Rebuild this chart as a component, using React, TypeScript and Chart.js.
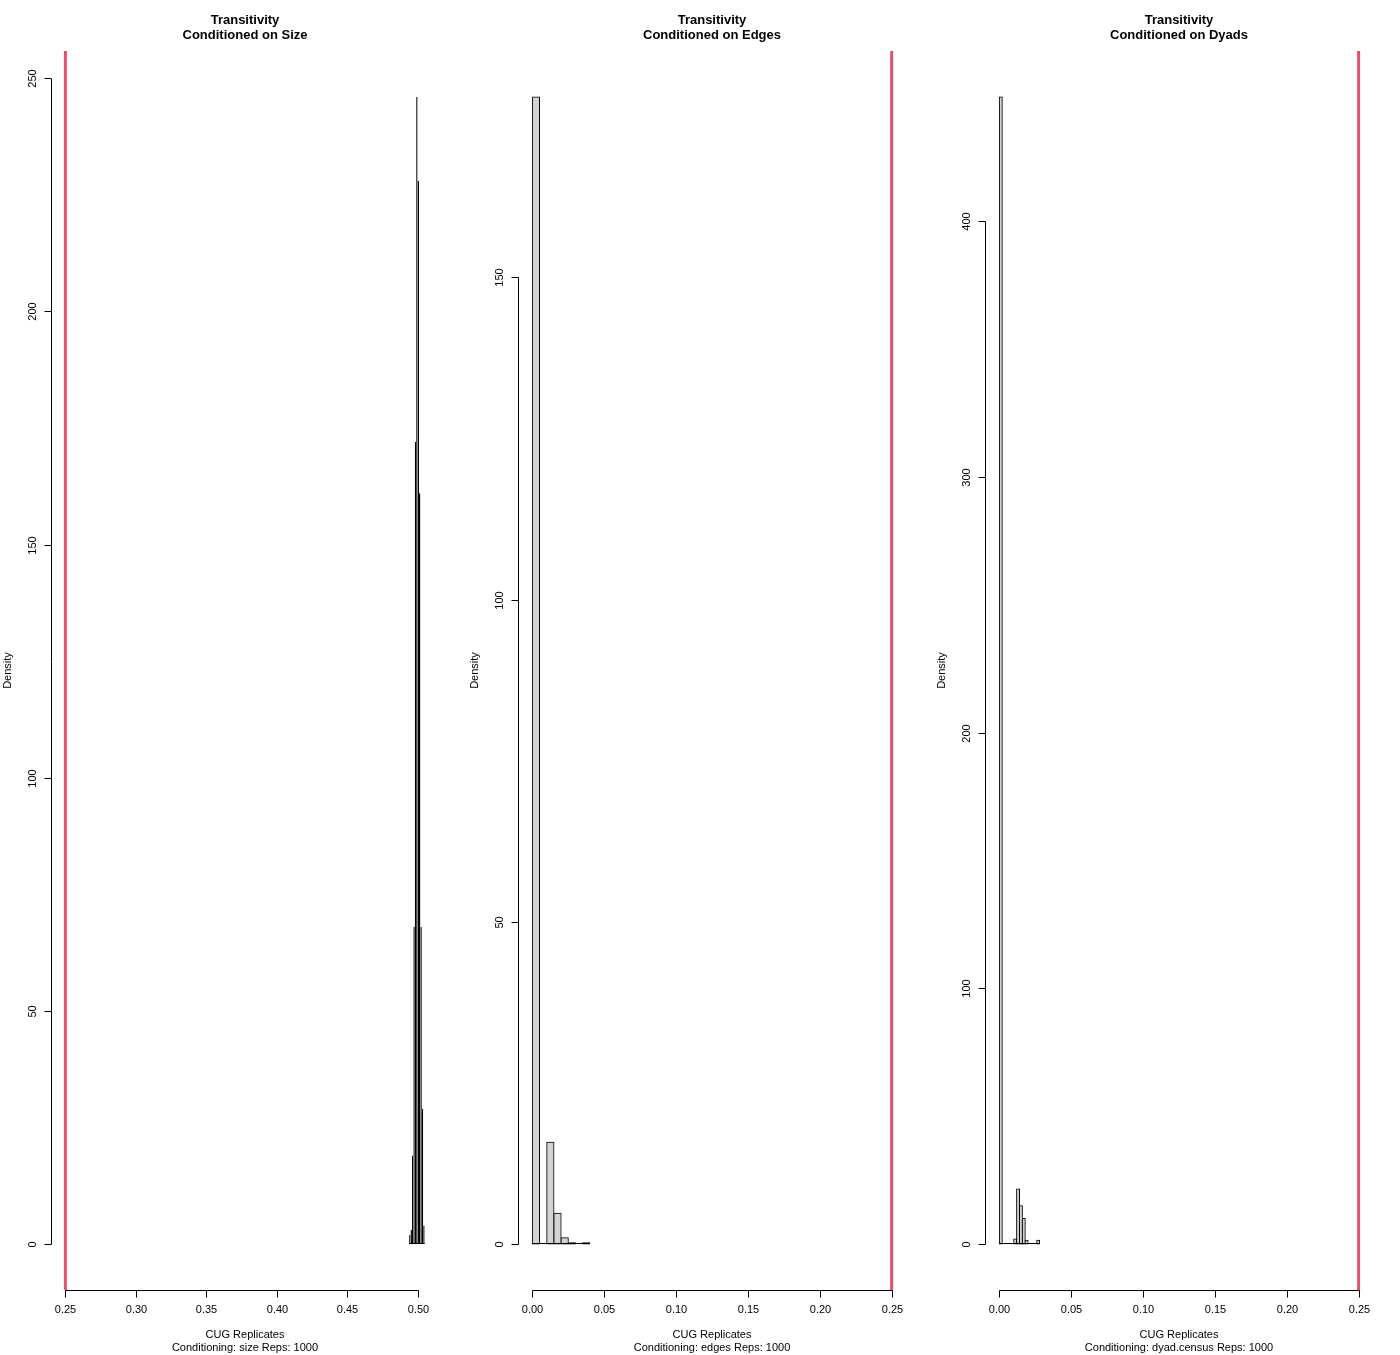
import React, { useEffect, useRef } from "react";
import { Chart, registerables } from "chart.js";

Chart.register(...registerables);

// ---------- data ----------
const sizeBreaks = [0.494, 0.495, 0.496, 0.497, 0.498, 0.499, 0.5, 0.501, 0.502, 0.503, 0.504, 0.505];
const sizeDensity = [2, 3, 19, 68, 172, 246, 228, 161, 68, 29, 4];
const sizeObserved = 0.25;

const edgesBreaks = [0, 0.005, 0.01, 0.015, 0.02, 0.025, 0.03, 0.035, 0.04];
const edgesDensity = [178, 0, 15.8, 4.8, 1.0, 0.2, 0, 0.2];
const edgesObserved = 0.25;

const dyadBreaks = [0, 0.002, 0.004, 0.006, 0.008, 0.01, 0.012, 0.014, 0.016, 0.018, 0.02, 0.022, 0.024, 0.026, 0.028];
const dyadDensity = [448.5, 0, 0, 0, 0, 2, 21.5, 15, 10, 1.5, 0, 0, 0, 1.5];
const dyadObserved = 0.25;

const sizeXTicks = [0.25, 0.3, 0.35, 0.4, 0.45, 0.5];
const sizeXTickLabels = ["0.25", "0.30", "0.35", "0.40", "0.45", "0.50"];
const propXTicks = [0, 0.05, 0.1, 0.15, 0.2, 0.25];
const propXTickLabels = ["0.00", "0.05", "0.10", "0.15", "0.20", "0.25"];

const sizeYTicks = [0, 50, 100, 150, 200, 250];
const edgesYTicks = [0, 50, 100, 150];
const dyadYTicks = [0, 100, 200, 300, 400];

const titleLine1 = "Transitivity";
const titleLines2 = ["Conditioned on Size", "Conditioned on Edges", "Conditioned on Dyads"];
const xLabel1 = "CUG Replicates";
const xLabels2 = ["Conditioning: size Reps: 1000", "Conditioning: edges Reps: 1000", "Conditioning: dyad.census Reps: 1000"];
const yLabel = "Density";

// ---------- layout ----------
const W = 1400;
const H = 1355;
const PLOT_LEFTS = [51, 518, 985];
const PLOT_W = 388;
const PLOT_TOP = 51;
const PLOT_BOTTOM = 1290;
const FONT = '"Liberation Sans", Arial, Helvetica, sans-serif';
const OBS_COLOR = "#DF536B";

type Panel = {
  breaks: number[];
  density: number[];
  observed: number;
  xTicks: number[];
  xTickLabels: string[];
  yTicks: number[];
  title2: string;
  xlab2: string;
  left: number;
  inflate: number;
};

const panels: Panel[] = [
  { breaks: sizeBreaks, density: sizeDensity, observed: sizeObserved, xTicks: sizeXTicks, xTickLabels: sizeXTickLabels, yTicks: sizeYTicks, title2: titleLines2[0], xlab2: xLabels2[0], left: PLOT_LEFTS[0], inflate: 0 },
  { breaks: edgesBreaks, density: edgesDensity, observed: edgesObserved, xTicks: propXTicks, xTickLabels: propXTickLabels, yTicks: edgesYTicks, title2: titleLines2[1], xlab2: xLabels2[1], left: PLOT_LEFTS[1], inflate: 0.5 },
  { breaks: dyadBreaks, density: dyadDensity, observed: dyadObserved, xTicks: propXTicks, xTickLabels: propXTickLabels, yTicks: dyadYTicks, title2: titleLines2[2], xlab2: xLabels2[2], left: PLOT_LEFTS[2], inflate: 0.5 },
];

function makeChart(canvas: HTMLCanvasElement, p: Panel) {
  const xLo = Math.min(p.breaks[0], p.observed);
  const xHi = Math.max(p.breaks[p.breaks.length - 1], p.observed);
  const xPad = (xHi - xLo) * 0.04;
  const yMax = Math.max(...p.density);
  const points = p.density.map((d, i) => ({ x: (p.breaks[i] + p.breaks[i + 1]) / 2, y: d }));

  const overlay = {
    id: "rstyle",
    afterDatasetsDraw(chart: any) {
      const ctx: CanvasRenderingContext2D = chart.ctx;
      const xs = chart.scales.x;
      const ys = chart.scales.y;
      const area = chart.chartArea;
      ctx.save();
      // histogram baseline (zero-height bins)
      const y0 = Math.round(ys.getPixelForValue(0)) - 0.5;
      ctx.strokeStyle = "#000";
      ctx.lineWidth = 1;
      ctx.beginPath();
      ctx.moveTo(xs.getPixelForValue(p.breaks[0]), y0);
      ctx.lineTo(xs.getPixelForValue(p.breaks[p.breaks.length - 1]), y0);
      ctx.stroke();

      // observed line
      const ox = xs.getPixelForValue(p.observed);
      ctx.strokeStyle = OBS_COLOR;
      ctx.lineWidth = 3;
      ctx.beginPath();
      ctx.moveTo(ox, area.top);
      ctx.lineTo(ox, area.bottom);
      ctx.stroke();

      ctx.strokeStyle = "#000";
      ctx.fillStyle = "#000";
      ctx.lineWidth = 1;

      // x axis
      const ax = area.bottom + 0.5;
      const xpx = p.xTicks.map((v) => Math.round(xs.getPixelForValue(v)) + 0.5);
      ctx.beginPath();
      ctx.moveTo(xpx[0], ax);
      ctx.lineTo(xpx[xpx.length - 1], ax);
      xpx.forEach((x) => {
        ctx.moveTo(x, ax);
        ctx.lineTo(x, ax + 7);
      });
      ctx.stroke();
      ctx.font = `11px ${FONT}`;
      ctx.textAlign = "center";
      ctx.textBaseline = "middle";
      xpx.forEach((x, i) => ctx.fillText(p.xTickLabels[i], x, area.bottom + 20));

      // y axis
      const ay = area.left + 0.5;
      const ypx = p.yTicks.map((v) => Math.round(ys.getPixelForValue(v)) + 0.5);
      ctx.beginPath();
      ctx.moveTo(ay, ypx[0]);
      ctx.lineTo(ay, ypx[ypx.length - 1]);
      ypx.forEach((y) => {
        ctx.moveTo(ay, y);
        ctx.lineTo(ay - 7, y);
      });
      ctx.stroke();
      ypx.forEach((y, i) => {
        ctx.save();
        ctx.translate(area.left - 18, y);
        ctx.rotate(-Math.PI / 2);
        ctx.fillText(String(p.yTicks[i]), 0, 0);
        ctx.restore();
      });

      // y label
      const cy = (area.top + area.bottom) / 2;
      ctx.save();
      ctx.translate(area.left - 43, cy);
      ctx.rotate(-Math.PI / 2);
      ctx.fillText(yLabel, 0, 0);
      ctx.restore();

      // x labels
      const cx = (area.left + area.right) / 2;
      ctx.fillText(xLabel1, cx, 1335);
      ctx.fillText(p.xlab2, cx, 1348);

      // titles
      ctx.font = `bold 13px ${FONT}`;
      ctx.fillText(titleLine1, cx, 20);
      ctx.fillText(p.title2, cx, 35);
      ctx.restore();
    },
  };

  return new Chart(canvas, {
    type: "bar",
    data: {
      datasets: [
        {
          data: points as any,
          backgroundColor: "#D3D3D3",
          borderColor: "#000000",
          borderWidth: 1,
          borderSkipped: false,
          inflateAmount: p.inflate,
          barPercentage: 1,
          categoryPercentage: 1,
        } as any,
      ],
    },
    options: {
      animation: false,
      responsive: false,
      devicePixelRatio: 1,
      events: [],
      layout: {
        padding: { left: p.left, right: W - (p.left + PLOT_W), top: PLOT_TOP, bottom: H - PLOT_BOTTOM },
      },
      scales: {
        x: { type: "linear", min: xLo - xPad, max: xHi + xPad, offset: false, display: false, grid: { offset: false } },
        y: { type: "linear", min: -0.04 * yMax, max: 1.04 * yMax, display: false },
      },
      plugins: { legend: { display: false }, tooltip: { enabled: false } },
    },
    plugins: [overlay],
  } as any);
}

function Panel({ p }: { p: Panel }) {
  const ref = useRef<HTMLCanvasElement | null>(null);
  useEffect(() => {
    if (!ref.current) return;
    const c = makeChart(ref.current, p);
    return () => c.destroy();
  }, [p]);
  return (
    <canvas
      ref={ref}
      width={W}
      height={H}
      style={{ position: "absolute", left: 0, top: 0, width: W, height: H }}
    />
  );
}

export default function App() {
  return (
    <div style={{ position: "absolute", left: 0, top: 0, width: W, height: H, background: "#fff" }}>
      {panels.map((p, i) => (
        <Panel key={i} p={p} />
      ))}
    </div>
  );
}
